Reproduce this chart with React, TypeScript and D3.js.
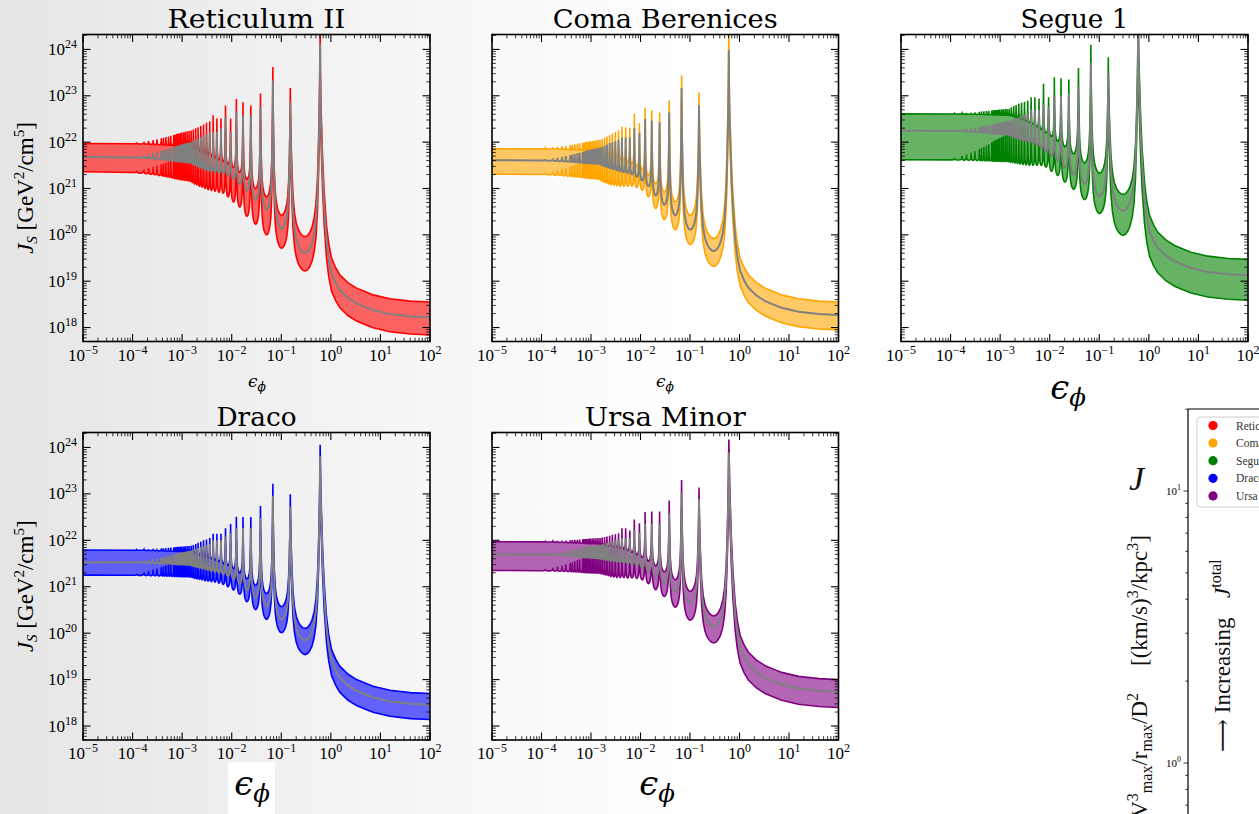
import React from "react";
import * as d3 from "d3";

const WIDTH = 1259;
const HEIGHT = 814;

// ---- axes ----
const EPS_MIN = 1e-5;
const EPS_MAX = 1e2;
const J_MIN = 5.0e17;
const J_MAX = 2.1e24;
const EPS_DECADES = [-5, -4, -3, -2, -1, 0, 1, 2];
const J_DECADES = [18, 19, 20, 21, 22, 23, 24];

// ---- resolved resonance peaks and the valleys to their left, in eps_phi ----
const RESONANCE_EPS = [0.608, 0.152, 0.0676, 0.038, 0.0243, 0.0169, 0.0124, 0.0095, 0.0075, 0.00608,
  0.00502, 0.00422, 0.0036, 0.0031, 0.0027, 0.00238, 0.0021, 0.00188, 0.00168, 0.00152];
const VALLEY_EPS = [0.304, 0.101, 0.0507, 0.0304, 0.0203, 0.0145, 0.0109, 0.0084, 0.00676, 0.00553,
  0.00461, 0.0039, 0.00334, 0.0029, 0.00253, 0.00224, 0.00199, 0.00178, 0.0016, 0.00145];

// unresolved (dense) oscillations below ~1.4e-3, and their fading amplitude (fraction of the last resolved one)
const DENSE_EPS = [0.00138, 0.00126, 0.00115, 0.00106, 0.00097, 0.0009, 0.00083, 0.00078, 0.00072, 0.00068,
  0.00059, 0.00053, 0.00047, 0.00042, 0.00038, 0.00031, 0.00026, 0.00021, 0.00017, 0.00012];
const DENSE_AMP = [0.97, 0.94, 0.9, 0.87, 0.84, 0.8, 0.77, 0.74, 0.7, 0.66, 0.6, 0.55, 0.5, 0.45, 0.4, 0.33, 0.27, 0.2, 0.14, 0.08];

// resonance spike shape (fraction of the valley->peak span), read from the main peak
const PROFILE_T = [0, 0.15, 0.3, 0.45, 0.6, 0.72, 0.82, 0.89, 0.94, 0.97, 0.99, 1];
const PROFILE_H = [0, 0.005, 0.02, 0.045, 0.09, 0.16, 0.28, 0.45, 0.62, 0.76, 0.9, 1];

// large-eps tail: dex above the asymptote
const TAIL_EPS = [0.615, 0.63, 0.65, 0.68, 0.733, 0.817, 0.9, 1.03, 1.25, 1.51, 2.2, 3.3, 5, 7.1, 15.5, 40, 100];
const TAIL_OFFSET = [5.0, 4.3, 3.85, 3.15, 2.4, 1.68, 1.3, 0.97, 0.76, 0.61, 0.44, 0.32, 0.24, 0.175, 0.09, 0.04, 0.02];

// ---- Reticulum II (log10 J): [lower, median, upper] ----
const RET_PLATEAU = [21.36, 21.68, 21.97];
const RET_TAIL = [17.82, 18.2, 18.53];
const RET_PEAK_MED = [24.12, 22.86, 23.33, 22.76, 22.58, 22.58, 22.66, 22.22, 22.54, 22.3, 22.22, 22.22, 22.2, 22.17, 22.14, 22.11, 22.08, 22.05, 22.03, 22.0];
const RET_PEAK_UP = [24.45, 23.17, 23.62, 23.05, 22.79, 22.86, 22.93, 22.51, 22.79, 22.51, 22.51, 22.58, 22.45, 22.42, 22.38, 22.35, 22.32, 22.3, 22.27, 22.25];
const RET_VALLEY_LO = [19.22, 19.71, 20.0, 20.23, 20.4, 20.6, 20.71, 20.82, 20.9, 20.92, 20.94, 20.96, 20.98, 21.0, 21.03, 21.05, 21.08, 21.1, 21.13, 21.16];
const RET_VALLEY_MED = [19.61, 20.14, 20.55, 20.75, 20.95, 21.1, 21.2, 21.28, 21.32, 21.34, 21.36, 21.37, 21.38, 21.41, 21.43, 21.46, 21.49, 21.51, 21.54, 21.56];
const RET_VALLEY_UP = [19.96, 20.42, 20.82, 21.0, 21.2, 21.35, 21.45, 21.52, 21.58, 21.62, 21.66, 21.69, 21.72, 21.75, 21.78, 21.8, 21.83, 21.86, 21.88, 21.9];

// ---- Coma Berenices ----
const COM_PLATEAU = [21.31, 21.61, 21.86];
const COM_TAIL = [17.93, 18.25, 18.53];
const COM_PEAK_MED = [23.99, 22.79, 23.17, 22.64, 22.43, 22.46, 22.5, 22.2, 22.3, 22.1, 22.1, 22.1, 22.05, 22.02, 22.0, 21.98, 21.95, 21.93, 21.9, 21.88];
const COM_PEAK_UP = [24.4, 23.07, 23.44, 22.9, 22.64, 22.69, 22.74, 22.41, 22.61, 22.31, 22.32, 22.33, 22.25, 22.22, 22.18, 22.15, 22.12, 22.1, 22.07, 22.05];
const COM_VALLEY_LO = [19.32, 19.79, 20.11, 20.33, 20.57, 20.82, 20.96, 21.02, 21.05, 21.05, 21.05, 21.05, 21.06, 21.07, 21.08, 21.1, 21.12, 21.14, 21.17, 21.2];
const COM_VALLEY_MED = [19.65, 20.11, 20.42, 20.65, 20.85, 21.05, 21.17, 21.25, 21.3, 21.33, 21.35, 21.37, 21.39, 21.41, 21.43, 21.45, 21.47, 21.49, 21.51, 21.53];
const COM_VALLEY_UP = [19.92, 20.42, 20.71, 20.92, 21.1, 21.28, 21.4, 21.47, 21.53, 21.57, 21.6, 21.63, 21.66, 21.69, 21.71, 21.73, 21.75, 21.77, 21.79, 21.81];

// ---- Segue 1 ----
const SEG_PLATEAU = [21.62, 22.25, 22.61];
const SEG_TAIL = [18.57, 19.11, 19.45];
const SEG_PEAK_MED = [24.45, 23.49, 23.71, 23.2, 23.05, 23.0, 23.0, 22.76, 22.83, 22.7, 22.7, 22.7, 22.62, 22.6, 22.57, 22.55, 22.52, 22.5, 22.47, 22.45];
const SEG_PEAK_UP = [24.6, 23.83, 24.1, 23.6, 23.35, 23.38, 23.4, 22.97, 23.26, 22.94, 22.97, 22.97, 22.9, 22.87, 22.85, 22.83, 22.8, 22.78, 22.75, 22.72];
const SEG_VALLEY_LO = [19.99, 20.46, 20.76, 20.98, 21.14, 21.28, 21.37, 21.46, 21.5, 21.5, 21.5, 21.5, 21.51, 21.52, 21.53, 21.54, 21.55, 21.56, 21.57, 21.58];
const SEG_VALLEY_MED = [20.52, 20.83, 21.1, 21.3, 21.45, 21.6, 21.7, 21.8, 21.87, 21.93, 21.98, 22.0, 22.02, 22.04, 22.06, 22.08, 22.1, 22.12, 22.14, 22.16];
const SEG_VALLEY_UP = [20.87, 21.33, 21.55, 21.75, 21.9, 22.02, 22.12, 22.2, 22.27, 22.33, 22.38, 22.42, 22.45, 22.48, 22.5, 22.52, 22.54, 22.56, 22.57, 22.58];

// ---- Draco ----
const DRA_PLATEAU = [21.25, 21.53, 21.79];
const DRA_TAIL = [18.12, 18.44, 18.68];
const DRA_PEAK_MED = [23.81, 22.73, 22.96, 22.48, 22.26, 22.26, 22.26, 22.15, 22.08, 22.0, 22.0, 22.0, 21.92, 21.9, 21.88, 21.86, 21.84, 21.82, 21.8, 21.78];
const DRA_PEAK_UP = [24.06, 22.99, 23.22, 22.74, 22.5, 22.5, 22.51, 22.35, 22.26, 22.14, 22.14, 22.14, 22.05, 22.02, 22.0, 21.97, 21.95, 21.92, 21.9, 21.88];
const DRA_VALLEY_LO = [19.54, 20.01, 20.3, 20.51, 20.68, 20.84, 20.93, 21.0, 21.05, 21.08, 21.1, 21.11, 21.12, 21.13, 21.15, 21.16, 21.17, 21.18, 21.2, 21.21];
const DRA_VALLEY_MED = [19.85, 20.3, 20.58, 20.78, 20.93, 21.07, 21.16, 21.23, 21.27, 21.3, 21.32, 21.34, 21.36, 21.38, 21.39, 21.41, 21.42, 21.44, 21.45, 21.47];
const DRA_VALLEY_UP = [20.1, 20.57, 20.85, 21.03, 21.17, 21.3, 21.39, 21.46, 21.5, 21.54, 21.57, 21.6, 21.62, 21.64, 21.66, 21.68, 21.7, 21.72, 21.73, 21.75];

// ---- Ursa Minor ----
const UMI_PLATEAU = [21.35, 21.7, 21.97];
const UMI_TAIL = [18.38, 18.72, 18.98];
const UMI_PEAK_MED = [23.89, 22.89, 23.02, 22.58, 22.35, 22.35, 22.35, 22.17, 22.22, 22.05, 22.05, 22.05, 22.02, 22.0, 21.98, 21.96, 21.95, 21.93, 21.92, 21.9];
const UMI_PEAK_UP = [24.17, 23.14, 23.3, 22.86, 22.62, 22.62, 22.61, 22.37, 22.45, 22.21, 22.26, 22.26, 22.15, 22.13, 22.12, 22.1, 22.08, 22.07, 22.06, 22.05];
const UMI_VALLEY_LO = [19.79, 20.28, 20.56, 20.79, 20.94, 21.07, 21.15, 21.18, 21.19, 21.19, 21.2, 21.2, 21.2, 21.21, 21.22, 21.24, 21.25, 21.27, 21.28, 21.29];
const UMI_VALLEY_MED = [20.14, 20.66, 20.9, 21.08, 21.22, 21.33, 21.41, 21.45, 21.48, 21.5, 21.52, 21.53, 21.54, 21.55, 21.56, 21.57, 21.58, 21.59, 21.6, 21.61];
const UMI_VALLEY_UP = [20.37, 20.9, 21.15, 21.32, 21.45, 21.55, 21.63, 21.69, 21.74, 21.78, 21.81, 21.83, 21.85, 21.86, 21.87, 21.88, 21.89, 21.9, 21.91, 21.92];

const GALAXY_NAMES = ["Reticulum II", "Coma Berenices", "Segue 1", "Draco", "Ursa Minor"];
const GALAXY_COLORS = ["#ff0000", "#ffa500", "#008000", "#0000ff", "#800080"];

type Galaxy = {
  plateau: number[]; tail: number[]; peakMed: number[]; peakUp: number[];
  valLo: number[]; valMed: number[]; valUp: number[];
};
const GALAXIES: Galaxy[] = [
  { plateau: RET_PLATEAU, tail: RET_TAIL, peakMed: RET_PEAK_MED, peakUp: RET_PEAK_UP, valLo: RET_VALLEY_LO, valMed: RET_VALLEY_MED, valUp: RET_VALLEY_UP },
  { plateau: COM_PLATEAU, tail: COM_TAIL, peakMed: COM_PEAK_MED, peakUp: COM_PEAK_UP, valLo: COM_VALLEY_LO, valMed: COM_VALLEY_MED, valUp: COM_VALLEY_UP },
  { plateau: SEG_PLATEAU, tail: SEG_TAIL, peakMed: SEG_PEAK_MED, peakUp: SEG_PEAK_UP, valLo: SEG_VALLEY_LO, valMed: SEG_VALLEY_MED, valUp: SEG_VALLEY_UP },
  { plateau: DRA_PLATEAU, tail: DRA_TAIL, peakMed: DRA_PEAK_MED, peakUp: DRA_PEAK_UP, valLo: DRA_VALLEY_LO, valMed: DRA_VALLEY_MED, valUp: DRA_VALLEY_UP },
  { plateau: UMI_PLATEAU, tail: UMI_TAIL, peakMed: UMI_PEAK_MED, peakUp: UMI_PEAK_UP, valLo: UMI_VALLEY_LO, valMed: UMI_VALLEY_MED, valUp: UMI_VALLEY_UP },
];

// ---- layout ----
const PANELS = [
  { x0: 83, x1: 430, y0: 34.5, y1: 341.5, yLabels: true, titleY: 27.5, titleW: 178, xl: { x: 257, y: 387, s: 17 } },
  { x0: 492, x1: 838.5, y0: 34.5, y1: 341.5, yLabels: false, titleY: 27.5, titleW: 225, xl: { x: 665, y: 387, s: 17 } },
  { x0: 901, x1: 1248, y0: 34.5, y1: 341.5, yLabels: false, titleY: 27.5, titleW: 108, xl: { x: 1068, y: 399, s: 34 } },
  { x0: 83, x1: 430, y0: 432.5, y1: 740, yLabels: true, titleY: 426, titleW: 80, xl: { x: 252, y: 795, s: 34 } },
  { x0: 492, x1: 838.5, y0: 432.5, y1: 740, yLabels: false, titleY: 426, titleW: 161, xl: { x: 657, y: 795, s: 34 } },
];

type Pt = { eps: number; lo: number; med: number; up: number };
type Node = { eps: number; v: number[]; peak: boolean };

function buildSeries(g: Galaxy): Pt[] {
  const N = RESONANCE_EPS.length;
  const nodes: Node[] = [];
  const last = N - 1;
  const pk = (i: number) => [2 * g.peakMed[i] - g.peakUp[i], g.peakMed[i], g.peakUp[i]];
  const vl = (i: number) => [g.valLo[i], g.valMed[i], g.valUp[i]];
  // dense, fading oscillations (smallest eps first)
  for (let k = DENSE_EPS.length - 1; k >= 0; k--) {
    const a = DENSE_AMP[k];
    const vEps = k === DENSE_EPS.length - 1 ? DENSE_EPS[k] / 1.12 : Math.sqrt(DENSE_EPS[k] * DENSE_EPS[k + 1]);
    nodes.push({ eps: vEps, v: vl(last).map((v, j) => g.plateau[j] + a * (v - g.plateau[j])), peak: false });
    nodes.push({ eps: DENSE_EPS[k], v: pk(last).map((v, j) => g.plateau[j] + a * (v - g.plateau[j])), peak: true });
  }
  for (let i = last; i >= 0; i--) {
    nodes.push({ eps: VALLEY_EPS[i], v: vl(i), peak: false });
    nodes.push({ eps: RESONANCE_EPS[i], v: pk(i), peak: true });
  }
  const pts: Pt[] = [];
  const add = (eps: number, v: number[]) => pts.push({ eps, lo: v[0], med: v[1], up: v[2] });
  add(EPS_MIN, g.plateau);
  add(nodes[0].eps, nodes[0].v);
  for (let n = 1; n < nodes.length; n++) {
    const a = nodes[n - 1];
    const b = nodes[n];
    const valley = a.peak ? b : a;
    const peak = a.peak ? a : b;
    const lv = Math.log10(valley.eps);
    const lp = Math.log10(peak.eps);
    const ks = PROFILE_T.map((_, k) => k);
    const order = a.peak ? ks.slice().reverse() : ks;
    order.slice(1).forEach((k) => {
      const t = PROFILE_T[k];
      const h = PROFILE_H[k];
      add(Math.pow(10, lv + t * (lp - lv)), valley.v.map((v, j) => v + h * (peak.v[j] - v)));
    });
  }
  TAIL_EPS.forEach((e, k) => add(e, g.tail.map((v) => v + TAIL_OFFSET[k])));
  return pts;
}

const SERIF = "'Liberation Serif', 'DejaVu Serif', serif";
const TITLE_FONT = "'DejaVu Serif', serif";
const GREEK = "'DejaVu Serif', serif";

function Pow10({ x, y, exp, anchor, size, supSize, rise }: any) {
  const e = exp < 0 ? "\u2212" + Math.abs(exp) : String(exp);
  return (
    <text x={x} y={y} textAnchor={anchor} fontFamily={SERIF} fontSize={size} fill="#000">
      10<tspan fontSize={supSize} dy={-rise}>{e}</tspan>
    </text>
  );
}

function Panel({ idx }: { idx: number }) {
  const p = PANELS[idx];
  const g = GALAXIES[idx];
  const color = GALAXY_COLORS[idx];
  const x = d3.scaleLog().domain([EPS_MIN, EPS_MAX]).range([p.x0, p.x1]);
  const y = d3.scaleLog().domain([J_MIN, J_MAX]).range([p.y1, p.y0]);
  const pts = buildSeries(g);
  const area = d3.area<Pt>().x((d) => x(d.eps)).y0((d) => y(Math.pow(10, d.lo))).y1((d) => y(Math.pow(10, d.up)));
  const lineOf = (key: "lo" | "med" | "up") =>
    d3.line<Pt>().x((d) => x(d.eps)).y((d) => y(Math.pow(10, d[key])))(pts) || "";
  const clipId = `clip${idx}`;

  const xTicks: { v: number; major: boolean }[] = [];
  EPS_DECADES.forEach((d) => {
    for (let k = 1; k <= 9; k++) {
      const v = k * Math.pow(10, d);
      if (v >= EPS_MIN * 0.999 && v <= EPS_MAX * 1.001) xTicks.push({ v, major: k === 1 });
    }
  });
  const yTicks: { v: number; major: boolean }[] = [];
  [17, ...J_DECADES].forEach((d) => {
    for (let k = 1; k <= 9; k++) {
      const v = k * Math.pow(10, d);
      if (v >= J_MIN && v <= J_MAX) yTicks.push({ v, major: k === 1 });
    }
  });
  const cy = (p.y0 + p.y1) / 2;

  return (
    <g>
      <defs>
        <clipPath id={clipId}>
          <rect x={p.x0} y={p.y0} width={p.x1 - p.x0} height={p.y1 - p.y0} />
        </clipPath>
      </defs>
      <g clipPath={`url(#${clipId})`}>
        <path d={area(pts) || ""} fill={color} fillOpacity={0.6} stroke="none" />
        <path d={lineOf("up")} fill="none" stroke={color} strokeWidth={1.6} />
        <path d={lineOf("lo")} fill="none" stroke={color} strokeWidth={1.6} />
        <path d={lineOf("med")} fill="none" stroke="#808080" strokeWidth={2} />
      </g>
      {xTicks.map((t, i) => {
        const xx = x(t.v);
        const L = t.major ? 7.5 : 3.8;
        return (
          <g key={"xt" + i} stroke="#000" strokeWidth={t.major ? 1.1 : 0.8}>
            <line x1={xx} x2={xx} y1={p.y1} y2={p.y1 - L} />
            <line x1={xx} x2={xx} y1={p.y0} y2={p.y0 + L} />
          </g>
        );
      })}
      {yTicks.map((t, i) => {
        const yy = y(t.v);
        const L = t.major ? 7.5 : 3.8;
        return (
          <g key={"yt" + i} stroke="#000" strokeWidth={t.major ? 1.1 : 0.8}>
            <line x1={p.x0} x2={p.x0 + L} y1={yy} y2={yy} />
            <line x1={p.x1} x2={p.x1 - L} y1={yy} y2={yy} />
          </g>
        );
      })}
      <rect x={p.x0} y={p.y0} width={p.x1 - p.x0} height={p.y1 - p.y0} fill="none" stroke="#000" strokeWidth={1.6} />
      {EPS_DECADES.map((d) => (
        <Pow10 key={"xl" + d} x={x(Math.pow(10, d))} y={p.y1 + 19} exp={d} anchor="middle" size={17} supSize={12} rise={7} />
      ))}
      {p.yLabels &&
        J_DECADES.map((d) => (
          <Pow10 key={"yl" + d} x={p.x0 - 6} y={y(Math.pow(10, d)) + 5.5} exp={d} anchor="end" size={17} supSize={12} rise={7} />
        ))}
      {p.yLabels && (
        <text transform={`translate(33, ${cy}) rotate(-90)`} textAnchor="middle" fontFamily={SERIF} fontSize={23} fill="#000">
          <tspan fontStyle="italic">J</tspan><tspan fontStyle="italic" fontSize={15} dy={4}>S</tspan><tspan dy={-4}> [GeV</tspan><tspan fontSize={15} dy={-9}>2</tspan><tspan dy={9}>/cm</tspan><tspan fontSize={15} dy={-9}>5</tspan><tspan dy={9}>]</tspan>
        </text>
      )}
      <text x={(p.x0 + p.x1) / 2} y={p.titleY} textAnchor="middle" fontFamily={TITLE_FONT} fontSize={26.5} fill="#000"
        textLength={p.titleW} lengthAdjust="spacingAndGlyphs">
        {GALAXY_NAMES[idx]}
      </text>
      <text x={p.xl.x} y={p.xl.y} textAnchor="middle" fontFamily={GREEK} fontStyle="italic" fontSize={p.xl.s} fill="#000">
        {"\u03F5"}<tspan fontSize={p.xl.s * 0.72} dy={p.xl.s * 0.22}>{"\u03D5"}</tspan>
      </text>
    </g>
  );
}

// ---- partial summary panel at lower right ----
const SUMMARY_DECADES = [0, 1];
function SummaryPanel() {
  const y = d3.scaleLog().domain([1, 10]).range([763, 491]);
  const ticks: { v: number; major: boolean }[] = [];
  [-1, 0, 1].forEach((d) => {
    for (let k = 1; k <= 9; k++) {
      const v = k * Math.pow(10, d);
      if (y(v) >= 409 && y(v) <= 814) ticks.push({ v, major: k === 1 });
    }
  });
  return (
    <g>
      <line x1={1188} x2={1188} y1={409} y2={814} stroke="#000" strokeWidth={1.2} />
      <line x1={1188} x2={1259} y1={409} y2={409} stroke="#000" strokeWidth={1.2} />
      {ticks.map((t, i) => (
        <line key={i} x1={1188} x2={1188 - (t.major ? 4.5 : 2.6)} y1={y(t.v)} y2={y(t.v)} stroke="#000" strokeWidth={0.8} />
      ))}
      {SUMMARY_DECADES.map((d) => (
        <Pow10 key={d} x={1181} y={y(Math.pow(10, d)) + 3.5} exp={d} anchor="end" size={11} supSize={8} rise={4.5} />
      ))}
      <rect x={1197} y={417} width={80} height={90} rx={3} fill="#ffffff" stroke="#cccccc" strokeWidth={1} />
      {GALAXY_NAMES.map((n, i) => (
        <g key={n}>
          <circle cx={1213} cy={425.5 + i * 17.6} r={4.6} fill={GALAXY_COLORS[i]} />
          <text x={1236} y={429.5 + i * 17.6} fontFamily={SERIF} fontSize={11.5} fill="#333">{n}</text>
        </g>
      ))}
      <text x={1129} y={490} fontFamily={SERIF} fontStyle="italic" fontSize={34} fill="#111">J</text>
      <text transform="translate(1147, 535) rotate(-90)" textAnchor="end" fontFamily={SERIF} fontSize={23} fill="#111">
        [(km/s)<tspan fontSize={16} dy={-9}>3</tspan><tspan dy={9}>/kpc</tspan><tspan fontSize={16} dy={-9}>3</tspan><tspan dy={9}>]</tspan>
      </text>
      <text transform="translate(1147, 693) rotate(-90)" textAnchor="end" fontFamily={SERIF} fontSize={23} fill="#111">
        V<tspan fontSize={16} dy={-9}>3</tspan><tspan fontSize={16} dy={14}>max</tspan><tspan dy={-5}>/r</tspan><tspan fontSize={16} dy={5}>max</tspan><tspan dy={-5}>/D</tspan><tspan fontSize={16} dy={-9}>2</tspan>
      </text>
      <text transform="translate(1230, 752) rotate(-90)" fontFamily={SERIF} fontSize={23} fill="#111">
        {"\u27F6 Increasing"}
      </text>
      <text transform="translate(1230, 598) rotate(-90)" fontFamily={SERIF} fontSize={23} fill="#111">
        <tspan fontStyle="italic">J</tspan><tspan fontSize={16} dy={-9}>total</tspan>
      </text>
    </g>
  );
}

export default function App() {
  return (
    <svg width={WIDTH} height={HEIGHT} viewBox={`0 0 ${WIDTH} ${HEIGHT}`}
      style={{ position: "absolute", left: 0, top: 0, display: "block" }}>
      <defs>
        <linearGradient id="bg" x1="0" x2="1" y1="0" y2="0">
          <stop offset="0" stopColor="#e5e5e5" />
          <stop offset="0.35" stopColor="#f7f7f7" />
          <stop offset="0.55" stopColor="#ffffff" />
          <stop offset="1" stopColor="#ffffff" />
        </linearGradient>
      </defs>
      <rect x={0} y={0} width={WIDTH} height={HEIGHT} fill="url(#bg)" />
      <rect x={228} y={762} width={47} height={52} fill="#ffffff" />
      {PANELS.map((_, i) => (
        <Panel key={i} idx={i} />
      ))}
      <SummaryPanel />
    </svg>
  );
}
